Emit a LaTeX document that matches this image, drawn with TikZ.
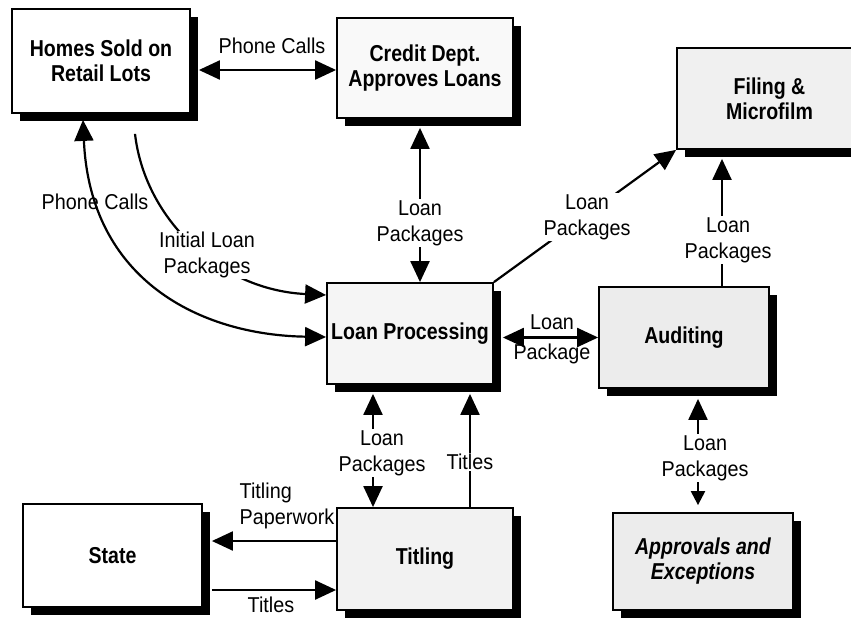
\documentclass[tikz,border=0pt]{standalone}
\usepackage{fontspec}
\setmainfont{Liberation Sans}[FakeStretch=0.92]
\newfontfamily\boxfont{Liberation Sans}[FakeStretch=0.85]
\usetikzlibrary{arrows.meta,shadows,calc}
\begin{document}
\begin{tikzpicture}[x=1pt,y=-1pt,
  box/.style={draw, line width=1.8pt, fill=#1, align=center,
    font=\boxfont\fontsize{23}{25}\selectfont\bfseries, inner sep=0pt,
    drop shadow={shadow xshift=8pt,shadow yshift=-8pt,fill=black,opacity=1}},
  box/.default=white,
  lbl/.style={align=center, font=\fontsize{21.5}{26}\selectfont, inner sep=1pt},
  wlbl/.style={lbl, fill=white},
  flow/.style={line width=2.2pt, -{Triangle[length=21pt,width=19pt]}},
  dflow/.style={line width=2.2pt, {Triangle[length=21pt,width=19pt]}-{Triangle[length=21pt,width=19pt]}}]
\useasboundingbox (0,0) rectangle (851,621);
\fill[white] (0,0) rectangle (851,621);

% boxes
\node[box, minimum width=178pt, minimum height=104pt] (homes) at (101,61) {Homes Sold on\\Retail Lots};
\node[box=gray!5, minimum width=176pt, minimum height=100pt] (credit) at (425,68) {Credit Dept.\\Approves Loans};
\node[box=gray!12, minimum width=185pt, minimum height=101pt] (filing) at (769.5,98.5) {Filing \&\\Microfilm};
\node[box=gray!8, minimum width=166pt, minimum height=101pt] (lp) at (410,333.5) {Loan Processing};
\node[box=gray!15, minimum width=170pt, minimum height=101pt] (aud) at (684,337.5) {Auditing};
\node[box, minimum width=179pt, minimum height=103pt] (state) at (112.5,555.5) {State};
\node[box=gray!10, minimum width=176pt, minimum height=102pt] (titling) at (425,559) {Titling};
\node[box=gray!15, minimum width=180pt, minimum height=97pt, font=\boxfont\fontsize{23}{25}\selectfont\bfseries\itshape] (appr) at (703,561.5) {Approvals and\\Exceptions};

% helper coordinates
\coordinate (a1) at ($(homes.east)+(8,9)$);
\coordinate (b1) at ($(credit.south)+(-5,9)$);
\coordinate (c1) at ($(aud.north)+(38,0)$);
\coordinate (fb) at ($(filing.south)+(0,9)$);
\coordinate (d1) at ($(lp.east)+(9,4)$);
\coordinate (e1) at ($(lp.south)+(-37,9)$);
\coordinate (f1) at ($(titling.north)+(45,0)$);
\coordinate (g1) at ($(titling.west)+(0,-18)$);
\coordinate (se) at ($(state.east)+(9,0)$);
\coordinate (h1) at ($(state.east)+(9,34.5)$);
\coordinate (i1) at ($(aud.south)+(14,10)$);
\coordinate (ia) at ($(appr.north)+(0,-7)$);
\coordinate (p1) at ($(homes.south)+(-18,6)$);
\coordinate (p2) at ($(lp.west)+(0,3.5)$);
\coordinate (q1) at ($(homes.south)+(34,20)$);
\coordinate (q2) at ($(lp.west)+(0,-38.5)$);

% connectors
\draw[dflow] (a1) -- (a1 -| credit.west);
\draw[dflow] (b1) -- (b1 |- lp.north);
\draw[flow] (lp.north east) -- (filing.south west);
\draw[flow] (c1) -- (c1 |- fb);
\draw[dflow] (d1) -- (d1 -| aud.west);
\draw[dflow] (e1) -- (e1 |- titling.north);
\draw[flow] (f1) -- (f1 |- e1);
\draw[flow] (g1) -- (g1 -| se);
\draw[flow] (h1) -- (h1 -| titling.west);
\draw[line width=2.2pt, {Triangle[length=21pt,width=19pt]}-{Triangle[length=14pt,width=14pt]}] (i1) -- (i1 |- ia);
\draw[dflow] (p2) .. controls (200,335) and (90,280) .. (p1);
\draw[flow] (q1) .. controls (145,220) and (220,290) .. (q2);

% labels
\node[lbl] (l1) at (272,46) {Phone Calls};
\node[wlbl] (l2) at (420,223) {Loan\\Packages};
\node[wlbl] (l3) at (587,217) {Loan\\Packages};
\node[wlbl] (l4) at (728,240) {Loan\\Packages};
\node[lbl, font=\fontsize{21.5}{30}\selectfont] (l5) at (552,339) {Loan\\Package};
\node[wlbl] (l6) at (382,453) {Loan\\Packages};
\node[wlbl] (l7) at (470,462) {Titles};
\node[lbl, align=left] (l8) at (287,506) {Titling\\Paperwork};
\node[lbl] (l9) at (271,605) {Titles};
\node[wlbl] (l10) at (705,458) {Loan\\Packages};
\node[lbl] (l11) at (95,202) {Phone Calls};
\node[wlbl] (l12) at (207,255) {Initial Loan\\Packages};
\end{tikzpicture}
\end{document}
